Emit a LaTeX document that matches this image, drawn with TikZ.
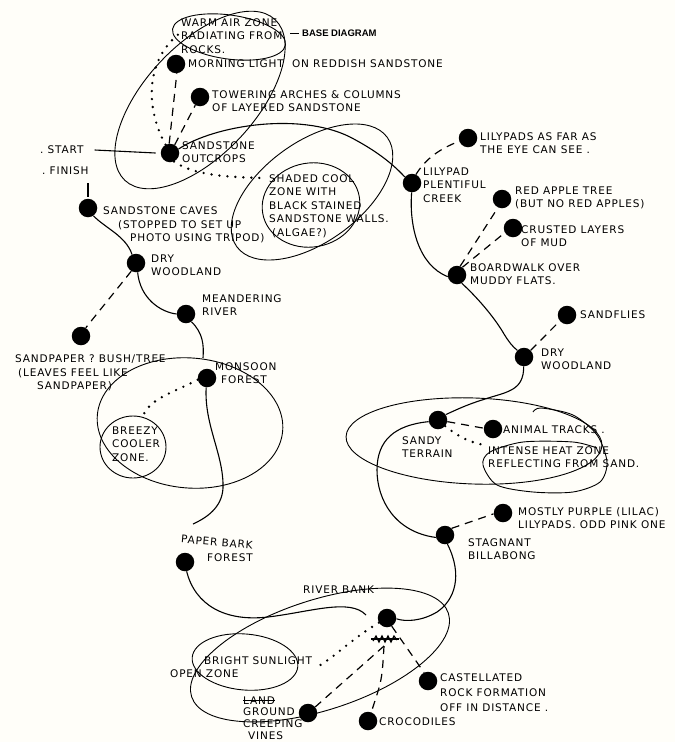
\documentclass[tikz,border=0pt]{standalone}
\usepackage{fontspec}
\setmainfont{DejaVu Sans}[LetterSpace=8]
\newfontfamily\tagfont{Liberation Sans}
\definecolor{paper}{RGB}{255,254,249}
\begin{document}
\begin{tikzpicture}[x=1pt,y=-1pt,
  spot/.style={circle, fill=black, minimum size=18.5pt, inner sep=0pt},
  lbl/.style={font=\fontsize{10.5}{13.5}\selectfont, anchor=west, align=left, inner sep=0pt},
  tag/.style={font=\tagfont\bfseries\fontsize{9.5}{11}\selectfont, anchor=west, inner sep=0pt},
  trail/.style={line width=1.1pt},
  ring/.style={line width=0.9pt},
  dashline/.style={line width=1.2pt, dash pattern=on 8pt off 6pt},
  dotline/.style={line width=2.6pt, line cap=round, dash pattern=on 0pt off 8pt}]
\useasboundingbox[fill=paper] (0,0) rectangle (675,742);

% ---------- zone outlines ----------
\draw[ring, rotate around={47:(200,100)}] (200,100) ellipse [x radius=110pt, y radius=55pt];
\draw[ring, rotate around={-8:(229,37)}] (229,37) ellipse [x radius=57pt, y radius=22pt];
\draw[ring, rotate around={36:(312,192)}] (312,192) ellipse [x radius=93pt, y radius=50pt];
\draw[ring, rotate around={10:(311,205)}] (311,205) ellipse [x radius=49pt, y radius=42pt];
\draw[ring, rotate around={-5:(190,423)}] (190,423) ellipse [x radius=93pt, y radius=65pt];
\draw[ring] (133,447) ellipse [x radius=33pt, y radius=31pt];
\draw[ring, rotate around={-2:(474,441)}] (474,441) ellipse [x radius=128pt, y radius=43pt];
\draw[ring] plot[smooth] coordinates {(533,412) (541,408) (573,415) (597,435) (607,462) (600,482) (573,492) (533,492) (497,485) (483,465) (490,452) (523,442) (573,442) (597,448)};
\draw[ring, rotate around={18:(320,655)}] (320,655) ellipse [x radius=135pt, y radius=55pt];
\draw[ring, rotate around={-5:(245,662)}] (245,662) ellipse [x radius=53pt, y radius=28pt];

% ---------- stops ----------
\node[spot] (morning) at (176,64) {};
\node[spot] (arches) at (200,97) {};
\node[spot] (outcrops) at (170,153) {};
\node[spot] (caves) at (88,208) {};
\node[spot] (drywoodL) at (136,263) {};
\node[spot] (sandpaper) at (81,336) {};
\node[spot] (meander) at (186,314) {};
\node[spot] (monsoon) at (207,378) {};
\node[spot] (paperbark) at (185,562) {};
\node[spot] (riverbank) at (387,618) {};
\node[spot] (castell) at (428,681) {};
\node[spot] (croc) at (368,721) {};
\node[spot] (vines) at (308,713) {};
\node[spot] (creek) at (412,183) {};
\node[spot] (lilyfar) at (468,138) {};
\node[spot] (apple) at (502,199) {};
\node[spot] (crusted) at (513,228) {};
\node[spot] (boardwalk) at (457,275) {};
\node[spot] (sandflies) at (567,315) {};
\node[spot] (drywoodR) at (524,357) {};
\node[spot] (sandy) at (438,420) {};
\node[spot] (animal) at (493,429) {};
\node[spot] (billabong) at (445,535) {};
\node[spot] (purple) at (503,513) {};

% ---------- labels ----------
\node[lbl] (warm) at (181,36) {WARM AIR ZONE\\RADIATING FROM\\ROCKS.};
\node[tag] (basetag) at (302,33) {BASE DIAGRAM};
\node[lbl] (morninglbl) at (188,64) {MORNING LIGHT\ \ ON REDDISH SANDSTONE};
\node[lbl] (archeslbl) at (212,101) {TOWERING ARCHES \& COLUMNS\\OF LAYERED SANDSTONE};
\node[lbl] (outcropslbl) at (182,152) {SANDSTONE\\OUTCROPS};
\node[lbl] (startlbl) at (40,150) {.\ START};
\node[lbl] (finishlbl) at (42,171) {.\ FINISH};
\node[lbl] (shaded) at (269,206) {SHADED COOL\\ZONE WITH\\BLACK STAINED\\SANDSTONE WALLS.\\\hspace*{3pt}(ALGAE?)};
\node[lbl] (caveslbl) at (103,225) {SANDSTONE CAVES\\\hspace*{15pt}(STOPPED TO SET UP\\\hspace*{27pt}PHOTO USING TRIPOD)};
\node[lbl] (drywoodLlbl) at (151,265) {DRY\\WOODLAND};
\node[lbl] (meanderlbl) at (202,305) {MEANDERING\\RIVER};
\node[lbl] (sandpaperlbl) at (15,373) {SANDPAPER ? BUSH/TREE\\\hspace*{3pt}(LEAVES FEEL LIKE\\\hspace*{22pt}SANDPAPER)};
\node[lbl] (monsoonlbl) at (215,373) {MONSOON\\\hspace*{6pt}FOREST};
\node[lbl] (breezylbl) at (112,444) {BREEZY\\COOLER\\ZONE.};
\node[lbl, rotate=-5] (paperbarklbl) at (181,539) {PAPER BARK};
\node[lbl] (forestlbl) at (207,558) {FOREST};
\node[lbl] (riverbanklbl) at (303,590) {RIVER BANK};
\node[lbl] (sunlbl) at (170,667) {\hspace*{34pt}BRIGHT SUNLIGHT\\OPEN ZONE};
\node[lbl] (landword) at (243,701) {LAND};
\node[lbl, font=\fontsize{10.5}{12}\selectfont] (vineslbl) at (243,724) {GROUND\\CREEPING\\\hspace*{5pt}VINES};
\node[lbl] (croclbl) at (379,722) {CROCODILES};
\node[lbl, font=\fontsize{10.5}{15}\selectfont] (castelllbl) at (440,693) {CASTELLATED\\ROCK FORMATION\\OFF IN DISTANCE .};
\node[lbl] (creeklbl) at (423,185) {LILYPAD\\PLENTIFUL\\CREEK};
\node[lbl] (lilyfarlbl) at (480,143) {LILYPADS AS FAR AS\\THE EYE CAN SEE .};
\node[lbl] (applelbl) at (515,198) {RED APPLE TREE\\(BUT NO RED APPLES)};
\node[lbl] (crustedlbl) at (521,236) {CRUSTED LAYERS\\OF MUD};
\node[lbl] (boardwalklbl) at (470,274) {BOARDWALK OVER\\MUDDY FLATS.};
\node[lbl] (sandflieslbl) at (580,315) {SANDFLIES};
\node[lbl] (drywoodRlbl) at (541,359) {DRY\\WOODLAND};
\node[lbl] (sandylbl) at (402,447) {SANDY\\TERRAIN};
\node[lbl] (animallbl) at (503,430) {ANIMAL TRACKS .};
\node[lbl] (intense) at (488,457) {INTENSE HEAT ZONE\\REFLECTING FROM SAND.};
\node[lbl] (purplelbl) at (518,518) {MOSTLY PURPLE (LILAC)\\LILYPADS. ODD PINK ONE};
\node[lbl] (billabonglbl) at (468,549) {STAGNANT\\BILLABONG};

% ---------- free ends ----------
\coordinate (warmend) at (180,33);
\coordinate (shadeend) at (262,178);
\coordinate (meanderend) at (203,358);
\coordinate (breezytop) at (143,416);
\coordinate (pbtop) at (193,524);
\coordinate (rbend) at (366,615);
\coordinate (sunend) at (317,667);
\coordinate (scrib) at (384,646);
\coordinate (heatend) at (484,445);

% ---------- connectors ----------
\draw[line width=1pt] ([xshift=-12pt]basetag.west) -- ([xshift=-3pt]basetag.west);
\draw[dashline] (outcrops.95) -- (morning.-85);
\draw[dashline] (outcrops.60) -- (arches.-120);
\draw[dotline] (outcrops.118) .. controls (147,112) and (143,62) .. (warmend);
\draw[dotline] (outcrops.-65) .. controls (195,176) and (230,177) .. (shadeend);
\draw[trail] ([xshift=11pt]startlbl.east) -- ([xshift=-5pt]outcrops.west);
\draw[trail] ([yshift=2pt]caves.north) -- ([yshift=-8pt]caves.north |- finishlbl.south);
\draw[trail] (outcrops.25) .. controls (215,125) and (300,112) .. (350,137) .. controls (375,150) and (392,163) .. (creek.140);

\draw[trail] (caves.-55) .. controls (105,228) and (126,236) .. (drywoodL.115);
\draw[dashline] (drywoodL.-120) -- (sandpaper.60);
\draw[trail] (drywoodL.-80) .. controls (140,298) and (160,312) .. (meander.180);
\draw[trail] (meander.-55) .. controls (203,333) and (204,345) .. (meanderend);
\draw[dotline] (monsoon.190) .. controls (175,392) and (150,398) .. (breezytop);
\draw[trail] (monsoon.-95) .. controls (204,425) and (224,455) .. (223,488) .. controls (222,508) and (206,518) .. (pbtop);
\draw[trail] (paperbark.-80) .. controls (195,605) and (225,622) .. (268,617) .. controls (310,612) and (350,598) .. (rbend);

\draw[dotline] (riverbank.-150) .. controls (350,640) and (335,657) .. (sunend);
\draw[line width=1.2pt] (373,641) -- (376,636) -- (379,642) -- (382,636) -- (385,642) -- (388,636) -- (391,642) -- (394,636) -- (397,640);
\draw[line width=1.4pt] (371,639) -- (399,639);
\draw[dashline] (riverbank.-60) -- (castell.115);
\draw[dashline] (scrib) .. controls (382,680) .. (croc.70);
\draw[dashline] (scrib) -- (vines.40);
\draw[line width=0.9pt] ([yshift=1pt]landword.west) -- ([yshift=1pt]landword.east);

\draw[dashline] (creek.65) .. controls (428,155) and (445,147) .. (lilyfar.200);
\draw[trail] (creek.-92) .. controls (409,225) and (418,265) .. (boardwalk.190);
\draw[dashline] (boardwalk.70) -- (apple.-115);
\draw[dashline] (boardwalk.55) -- (crusted.-150);
\draw[trail] (boardwalk.-60) .. controls (480,300) and (496,320) .. (504,334) .. controls (509,342) and (512,346) .. (drywoodR.135);
\draw[dashline] (drywoodR.45) -- (sandflies.-140);
\draw[trail] (drywoodR.-92) .. controls (524,392) and (505,392) .. (482,400) .. controls (466,405) and (456,410) .. (sandy.35);
\draw[dashline] (sandy.-10) -- (animal.175);
\draw[dotline] (sandy.-40) .. controls (460,438) and (470,442) .. (heatend);
\draw[trail] (sandy.190) .. controls (395,425) and (377,440) .. (377,470) .. controls (377,500) and (395,532) .. (billabong.195);
\draw[dashline] (billabong.45) -- (purple.185);
\draw[trail] (billabong.-75) .. controls (463,575) and (455,600) .. (437,612) .. controls (422,621) and (406,622) .. (riverbank.-5);
\end{tikzpicture}
\end{document}
